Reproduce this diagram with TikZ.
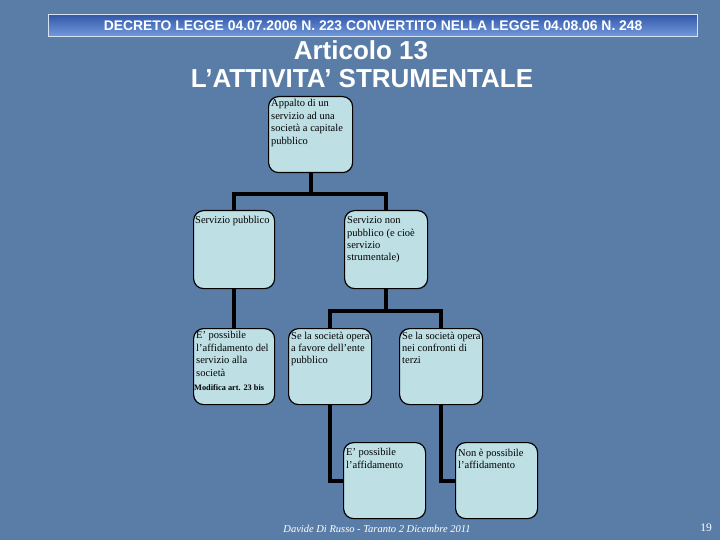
\documentclass[tikz,border=0pt]{standalone}
\usepackage{fontspec}
\setmainfont{Liberation Serif}
\newfontfamily\arialf{Liberation Sans}
\definecolor{bgblue}{HTML}{5A7DA8}
\definecolor{boxfill}{HTML}{BEE0E5}
\definecolor{hdtop}{HTML}{3358A8}
\definecolor{hdbot}{HTML}{739BDD}
\definecolor{hdborder}{HTML}{D5E3F3}
\tikzset{
  orgbox/.style={draw=black, line width=1.2pt, fill=boxfill, rounded corners=10pt,
    anchor=north west, inner sep=0pt},
  boxtext/.style={anchor=north west, inner sep=0pt, align=left,
    font=\fontsize{10.5}{12.4}\selectfont, text=black},
  conn/.style={draw=black, line width=4pt},
}
\begin{document}
\begin{tikzpicture}[x=1pt,y=-1pt]
\useasboundingbox (0,0) rectangle (720,540);
\fill[bgblue] (0,0) rectangle (720,540);
% header
\node[draw=hdborder, line width=1.2pt, top color=hdtop, bottom color=hdbot,
  minimum width=649pt, minimum height=22pt, anchor=north west, inner sep=0pt]
  (hdr) at (48,14) {};
\node[text=white, font=\arialf\bfseries\fontsize{13.9}{14}\selectfont] (hdrt) at (hdr.center)
  {DECRETO LEGGE 04.07.2006 N. 223 CONVERTITO NELLA LEGGE 04.08.06 N. 248};
\node[text=white, font=\arialf\bfseries\fontsize{26}{28}\selectfont] (t1) at (361,50) {Articolo 13};
\node[text=white, font=\arialf\bfseries\fontsize{26}{28}\selectfont] (t2) at (362,79) {L’ATTIVITA’ STRUMENTALE};
% boxes
\node[orgbox, minimum width=84pt, minimum height=76pt] (top) at (268,96) {};
\node[orgbox, minimum width=81pt, minimum height=78pt] (sp) at (193,210) {};
\node[orgbox, minimum width=83pt, minimum height=78pt] (snp) at (344,210) {};
\node[orgbox, minimum width=81pt, minimum height=76pt] (ep) at (193,328) {};
\node[orgbox, minimum width=83pt, minimum height=76pt] (sce) at (288,328) {};
\node[orgbox, minimum width=83pt, minimum height=76pt] (sct) at (399,328) {};
\node[orgbox, minimum width=82pt, minimum height=76pt] (epa) at (343,442) {};
\node[orgbox, minimum width=82pt, minimum height=76pt] (npa) at (455,442) {};
% texts
\node[boxtext] (ttop) at ([xshift=3pt,yshift=-3.5pt]top.north west) {Appalto di un\\servizio ad una\\società a capitale\\pubblico};
\node[boxtext] (tsp) at ([xshift=2pt,yshift=-6.5pt]sp.north west) {Servizio pubblico};
\node[boxtext] (tsnp) at ([xshift=3pt,yshift=-6.5pt]snp.north west) {Servizio non\\pubblico (e cioè\\servizio\\strumentale)};
\node[boxtext] (tep) at ([xshift=3pt,yshift=-3.5pt]ep.north west) {E’ possibile\\l’affidamento del\\servizio alla\\società};
\node[anchor=north west, inner sep=0pt, font=\bfseries\fontsize{8.3}{9}\selectfont] (tmod) at ([xshift=1pt,yshift=-56pt]ep.north west) {Modifica art. 23 bis};
\node[boxtext] (tsce) at ([xshift=3pt,yshift=-3.5pt]sce.north west) {Se la società opera\\a favore dell’ente\\pubblico};
\node[boxtext] (tsct) at ([xshift=3pt,yshift=-3.5pt]sct.north west) {Se la società opera\\nei confronti di\\terzi};
\node[boxtext] (tepa) at ([xshift=3pt,yshift=-6.5pt]epa.north west) {E’ possibile\\l’affidamento};
\node[boxtext] (tnpa) at ([xshift=3pt,yshift=-6.5pt]npa.north west) {Non è possibile\\l’affidamento};
% connectors
\draw[conn] (top.south) -- ++(0,21) coordinate (j1);
\draw[conn] (sp.north) |- (j1) -| (snp.north);
\draw[conn] (sp.south) -- (ep.north);
\draw[conn] (snp.south) -- ++(0,22) coordinate (j2);
\draw[conn] (sce.north) |- (j2) -| (sct.north);
\draw[conn] (sce.south) |- (epa.west);
\draw[conn] (sct.south) |- (npa.west);
% footer
\node[text=white, font=\itshape\fontsize{10.5}{12}\selectfont] (foot) at (377,529) {Davide Di Russo - Taranto 2 Dicembre 2011};
\node[text=white, font=\fontsize{11.5}{14}\selectfont] (pg) at (706,528) {19};
\end{tikzpicture}
\end{document}
